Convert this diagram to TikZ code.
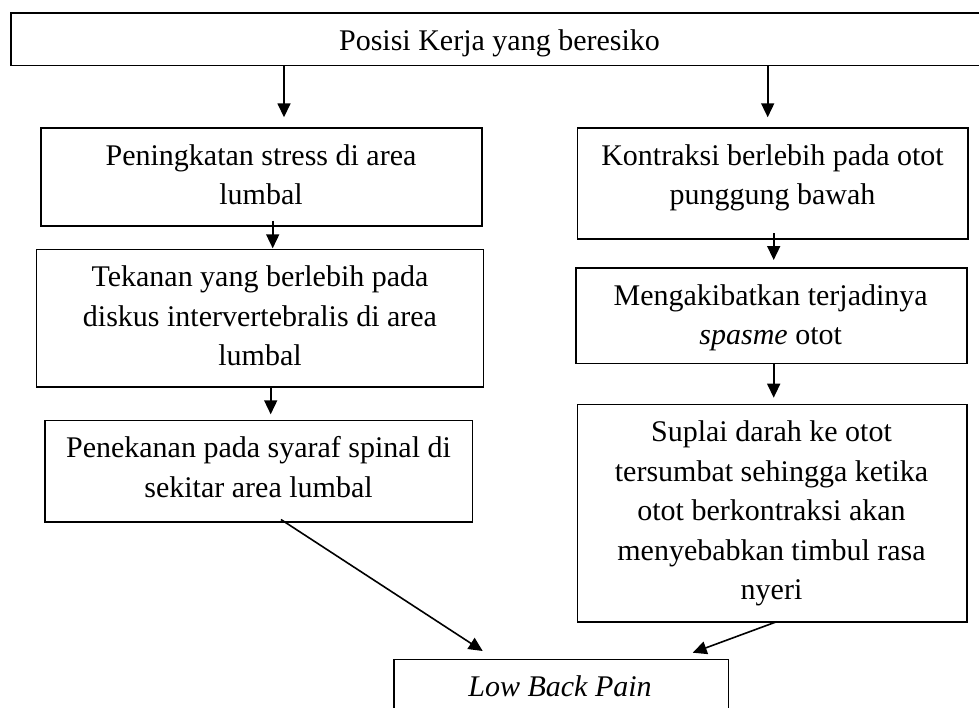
\documentclass[tikz,border=0pt]{standalone}
\usepackage{fontspec}
\setmainfont{Liberation Serif}
\usetikzlibrary{arrows.meta}
\begin{document}
\begin{tikzpicture}[x=1pt,y=-1pt,
  box/.style={draw=black, line width=1.6pt, rectangle, inner sep=0pt, outer sep=0pt},
  txt/.style={align=center, inner sep=0pt, font=\fontsize{30}{39.5}\selectfont},
  arr/.style={draw=black, line width=1.6pt, -{Triangle[length=14pt,width=13pt]}}]
\useasboundingbox (0,0) rectangle (979,707);
% boxes
\node[box, minimum width=1009.3pt, minimum height=52.6pt] (top) at (515.35,39) {};
\node[box, minimum width=441pt, minimum height=98pt] (l1) at (261.2,176.7) {};
\node[box, minimum width=390.4pt, minimum height=111pt] (r1) at (772.5,183.2) {};
\node[box, minimum width=446.8pt, minimum height=137.4pt] (l2) at (259.9,318) {};
\node[box, minimum width=390.7pt, minimum height=95.6pt] (r2) at (771.35,315.5) {};
\node[box, minimum width=427.3pt, minimum height=101.4pt] (l3) at (258.65,471) {};
\node[box, minimum width=389.4pt, minimum height=217.4pt] (r3) at (772,513) {};
\node[box, minimum width=334.6pt, minimum height=75pt] (bot) at (561,696.8) {};
% texts
\node[txt, anchor=base] (topt) at (499.5,50) {Posisi Kerja yang beresiko};
\node[txt, anchor=north] (l1t) at (261,137.35) {\strut Peningkatan stress di area\\\strut lumbal};
\node[txt, anchor=north] (l2t) at (260,259.05) {\strut Tekanan yang berlebih pada\\\strut diskus intervertebralis di area\\\strut lumbal};
\node[txt, anchor=north] (l3t) at (258.5,429.65) {\strut Penekanan pada syaraf spinal di\\\strut sekitar area lumbal};
\node[txt, anchor=north] (r1t) at (772.5,137.35) {\strut Kontraksi berlebih pada otot\\\strut punggung bawah};
\node[txt, anchor=north] (r2t) at (770.7,277.35) {\strut Mengakibatkan terjadinya\\\strut \textit{spasme} otot};
\node[txt, anchor=north] (r3t) at (771.5,414.05) {\strut Suplai darah ke otot\\\strut tersumbat sehingga ketika\\\strut otot berkontraksi akan\\\strut menyebabkan timbul rasa\\\strut nyeri};
\node[txt, anchor=base] (bott) at (560,696.7) {\textit{Low Back Pain}};
% helper coordinates
\coordinate (xa) at (284,0);
\coordinate (xb) at (767.7,0);
\coordinate (xc) at (272.7,0);
\coordinate (xd) at (270.7,0);
\coordinate (xe) at (773.7,0);
\coordinate (xf) at (284.3,0);
\coordinate (xg) at (776.7,0);
\coordinate (tipA) at (482.7,651);
\coordinate (tipB) at (692.7,652.7);
% connectors
\draw[arr, shorten >=10.4pt] (top.south -| xa) -- (l1.north -| xa);
\draw[arr, shorten >=10.4pt] (top.south -| xb) -- (r1.north -| xb);
\draw[arr, shorten <=-5pt, shorten >=1pt] (l1.south -| xc) -- (l2.north -| xc);
\draw[arr, shorten >=6pt] (l2.south -| xd) -- (l3.north -| xd);
\draw[arr, shorten <=-5.7pt, shorten >=7.7pt] (r1.south -| xe) -- (r2.north -| xe);
\draw[arr, shorten >=6.6pt] (r2.south -| xe) -- (r3.north -| xe);
\draw[arr, shorten <=-4pt] (l3.south -| xf) -- (tipA);
\draw[arr] (r3.south -| xg) -- (tipB);
\end{tikzpicture}
\end{document}
